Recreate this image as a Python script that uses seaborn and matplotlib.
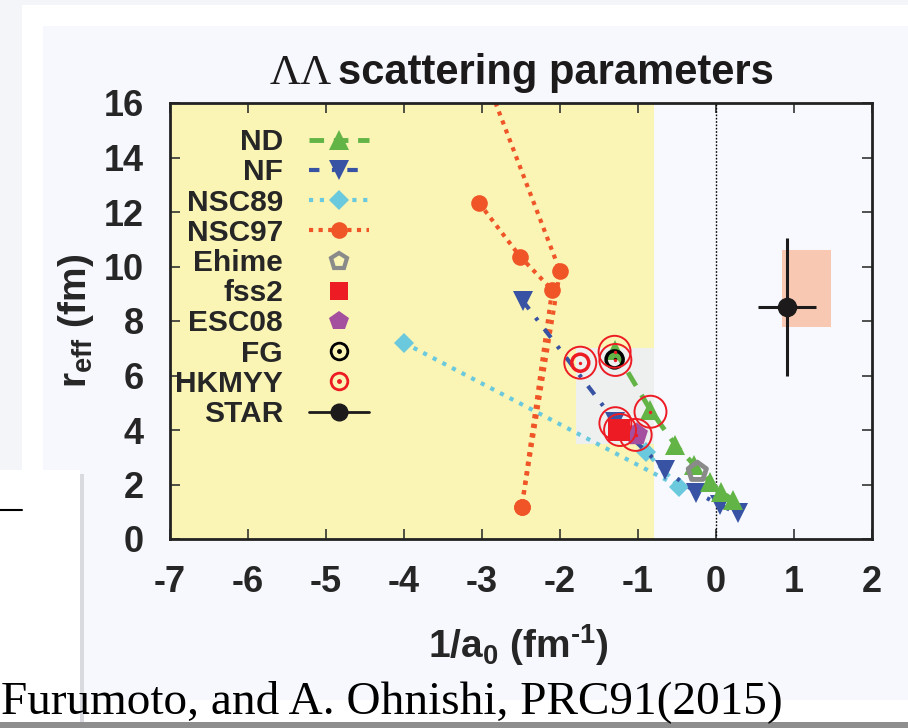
import numpy as np
import pandas as pd
import matplotlib
matplotlib.use("Agg")
import matplotlib.pyplot as plt
from matplotlib.patches import Rectangle
from matplotlib.lines import Line2D
import seaborn as sns

# ---------------- data ----------------
nd_x = [-1.30, -0.84, -0.52, -0.28, -0.08, 0.06, 0.22]
nd_y = [6.94, 4.73, 3.45, 2.72, 2.10, 1.74, 1.43]

nf_x = [-2.48, -1.29, -0.65, -0.25, 0.05, 0.28]
nf_y = [8.75, 4.30, 2.53, 1.70, 1.25, 0.94]

nsc89_x = [-4.00, -0.47, -0.90]
nsc89_y = [7.20, 1.92, 3.19]

nsc97a_x = [-2.96, -2.00, -2.49]
nsc97a_y = [17.0, 9.83, 1.19]
nsc97b_x = [-3.04, -2.51, -2.10, -2.49]
nsc97b_y = [12.34, 10.36, 9.14, 1.19]

ehime_x, ehime_y = [-0.24], [2.47]
fss2_x, fss2_y = [-1.24], [4.00]
esc08_x, esc08_y = [-1.02], [3.85]
fg_x, fg_y = [-1.30], [6.59]
hkmyy_x, hkmyy_y = [-1.74], [6.47]
halo_x = [-1.74, -1.30, -1.29, -0.84, -1.29, -1.23, -1.03]
halo_y = [6.47, 6.87, 6.57, 4.67, 4.25, 4.00, 3.82]

star_x, star_y = [0.91], [8.51]
star_xerr, star_yerr = [0.37], [2.54]
star_box_x = [0.85, 1.48]
star_box_y = [7.79, 10.60]

allowed_x = [-7, -0.80]          # yellow region
grey_box_x = [-1.80, -0.80]
grey_box_y = [3.50, 7.00]

x_ticks = list(range(-7, 3))
y_ticks = list(range(0, 17, 2))
legend_labels = ["ND", "NF", "NSC89", "NSC97", "Ehime", "fss2", "ESC08",
                 "FG", "HKMYY", "STAR"]

# ---------------- style ----------------
sns.set_style("ticks")
plt.rcParams["font.family"] = ["Liberation Sans", "DejaVu Sans"]
plt.rcParams["font.weight"] = "bold"
plt.rcParams["axes.unicode_minus"] = False
plt.rcParams["mathtext.fontset"] = "custom"
plt.rcParams["mathtext.rm"] = "Liberation Sans:bold"
plt.rcParams["mathtext.it"] = "Liberation Sans:bold"
plt.rcParams["mathtext.bf"] = "Liberation Sans:bold"

C_ND = "#63b446"
C_NF = "#3853a4"
C_89 = "#6bc9dd"
C_97 = "#f05528"
C_EH = "#8a8a8a"
C_FS = "#ed1c24"
C_ES = "#a54f9f"
C_ST = "#1c1a1a"

W, H = 908, 728
fig = plt.figure(figsize=(W / 100, H / 100), dpi=100)
fig.patch.set_facecolor("#f4f5f9")


def fig_rect(x0, y0, x1, y1, color, z=0):
    fig.add_artist(Rectangle((x0 / W, 1 - y1 / H), (x1 - x0) / W, (y1 - y0) / H,
                             transform=fig.transFigure, facecolor=color,
                             edgecolor="none", zorder=z))

# slide decoration
fig_rect(22, 5, 908, 722, "white", z=-5)
fig_rect(43, 26, 908, 700, "#f6f8fe", z=-4)
fig_rect(0, 470, 80, 722, "white", z=-3)
fig_rect(80, 474, 84, 722, "#d8dadf", z=-3)
fig_rect(0, 722, 908, 728, "#8e8e8e", z=-2)
fig.add_artist(Line2D([0, 22 / W], [1 - 510 / H, 1 - 510 / H],
                      transform=fig.transFigure, color="black", lw=1.5))

ax = fig.add_axes([170 / W, 1 - 539 / H, 702 / W, 436 / H])
ax.set_facecolor("#f7f9fe")
ax.set_xlim(-7, 2)
ax.set_ylim(0, 16)

ax.axvspan(allowed_x[0], allowed_x[1], color="#fbf5b5", zorder=0, lw=0)
ax.add_patch(Rectangle((grey_box_x[0], grey_box_y[0]),
                       grey_box_x[1] - grey_box_x[0], grey_box_y[1] - grey_box_y[0],
                       facecolor="#eef0f0", edgecolor="none", zorder=0.5))
ax.axvline(0, color="black", lw=1.0, ls=(0, (1.2, 1.2)), zorder=1)
ax.add_patch(Rectangle((star_box_x[0], star_box_y[0]),
                       star_box_x[1] - star_box_x[0], star_box_y[1] - star_box_y[0],
                       facecolor="#f9c8b2", edgecolor="none", zorder=1))

# lines with markers
sns.lineplot(x=nsc89_x, y=nsc89_y, sort=False, estimator=None, ax=ax, color=C_89,
             linestyle=(0, (1, 1.6)), lw=3, marker="D", markersize=10,
             markeredgewidth=0, zorder=3)
sns.lineplot(x=nsc97a_x, y=nsc97a_y, sort=False, estimator=None, ax=ax, color=C_97,
             linestyle=(0, (1, 1.3)), lw=3, marker="o", markersize=12,
             markeredgewidth=0, zorder=3)
sns.lineplot(x=nsc97b_x, y=nsc97b_y, sort=False, estimator=None, ax=ax, color=C_97,
             linestyle=(0, (1, 1.3)), lw=3, marker="o", markersize=12,
             markeredgewidth=0, zorder=3)
sns.lineplot(x=nf_x, y=nf_y, sort=False, estimator=None, ax=ax, color=C_NF,
             linestyle=(0, (2.6, 2.6, 0.8, 2.6)), lw=3, marker="v", markersize=15,
             markeredgewidth=0, zorder=4)
sns.lineplot(x=nd_x, y=nd_y, sort=False, estimator=None, ax=ax, color=C_ND,
             linestyle=(0, (3.2, 2.2)), lw=3.5, marker="^", markersize=15,
             markeredgewidth=0, zorder=4)

# single points
sns.scatterplot(x=ehime_x, y=ehime_y, ax=ax, marker="p", s=190, facecolor="none",
                edgecolor=C_EH, linewidth=3.5, zorder=5)
sns.scatterplot(x=fss2_x, y=fss2_y, ax=ax, marker="s", s=260, color=C_FS,
                linewidth=0, zorder=6)
sns.scatterplot(x=esc08_x, y=esc08_y, ax=ax, marker="p", s=300, color=C_ES,
                linewidth=0, zorder=5)
sns.scatterplot(x=fg_x, y=fg_y, ax=ax, marker="o", s=150, facecolor="none",
                edgecolor="black", linewidth=2.5, zorder=6)
sns.scatterplot(x=fg_x, y=fg_y, ax=ax, marker="o", s=6, color="black",
                linewidth=0, zorder=6)
sns.scatterplot(x=hkmyy_x, y=hkmyy_y, ax=ax, marker="o", s=150, facecolor="none",
                edgecolor=C_FS, linewidth=2.5, zorder=6)
sns.scatterplot(x=halo_x, y=halo_y, ax=ax, marker="o", s=530, facecolor="none",
                edgecolor=C_FS, linewidth=1.4, zorder=7)
sns.scatterplot(x=halo_x, y=halo_y, ax=ax, marker="o", s=6, color=C_FS,
                linewidth=0, zorder=7)

ax.errorbar(star_x, star_y, xerr=star_xerr, yerr=star_yerr, fmt="o", color=C_ST,
            markersize=13, elinewidth=2.2, capsize=0, zorder=8)

# axes cosmetics
ax.set_xticks(x_ticks)
ax.set_yticks(y_ticks)
ax.tick_params(direction="in", length=7, width=1.2, top=True, right=True,
               labelsize=26, pad=19, color="#333333")
for lab in ax.get_xticklabels() + ax.get_yticklabels():
    lab.set_fontweight("bold")
for sp in ax.spines.values():
    sp.set_linewidth(2.0)
    sp.set_color("#222222")
    sp.set_zorder(10)

ax.set_xlabel("1/a$_{0}$ (fm$^{\u2010 1}$)", fontsize=28, fontweight="bold")
ax.set_ylabel(r"r$_{\rm eff}$ (fm)", fontsize=28, fontweight="bold")
ax.xaxis.set_label_coords(0.496, -0.19)
ax.yaxis.set_label_coords(-0.105, 0.5)

# title
fig.text(332 / W, 1 - 84 / H, "ΛΛ", fontsize=31, family="Liberation Serif",
         fontweight="normal", ha="right", va="baseline", color="#1c1a1a")
fig.text(338 / W, 1 - 84 / H, "scattering parameters", fontsize=30,
         fontweight="bold", ha="left", va="baseline", color="#1c1a1a")

# citation
fig.text(1 / W, 1 - 713 / H, "Furumoto, and A. Ohnishi, PRC91(2015)", fontsize=34,
         family="Liberation Serif", fontweight="normal", ha="left",
         va="baseline", color="black")

# legend
handles = [
    Line2D([], [], color=C_ND, ls=(0, (3, 2)), lw=3.5, marker="^", markersize=14, markeredgewidth=0),
    Line2D([], [], color=C_NF, ls=(0, (2.5, 3, 0.7, 3)), lw=3, marker="v", markersize=14, markeredgewidth=0),
    Line2D([], [], color=C_89, ls=(0, (1, 1.6)), lw=3, marker="D", markersize=10, markeredgewidth=0),
    Line2D([], [], color=C_97, ls=(0, (1, 1.3)), lw=3, marker="o", markersize=12, markeredgewidth=0),
    Line2D([], [], ls="none", marker="p", markersize=12, markerfacecolor="none",
           markeredgecolor=C_EH, markeredgewidth=3),
    Line2D([], [], ls="none", marker="s", markersize=13, color=C_FS, markeredgewidth=0),
    Line2D([], [], ls="none", marker="p", markersize=15, color=C_ES, markeredgewidth=0),
    (Line2D([], [], ls="none", marker="o", markersize=12, markerfacecolor="none",
            markeredgecolor="black", markeredgewidth=2),
     Line2D([], [], ls="none", marker="o", markersize=2.5, color="black")),
    (Line2D([], [], ls="none", marker="o", markersize=12, markerfacecolor="none",
            markeredgecolor=C_FS, markeredgewidth=2),
     Line2D([], [], ls="none", marker="o", markersize=2.5, color=C_FS)),
    Line2D([], [], color=C_ST, lw=2, marker="o", markersize=12),
]
leg = ax.legend(handles, legend_labels, loc="upper right", bbox_to_anchor=(0.30, 0.97),
                frameon=False, markerfirst=False, fontsize=21.5, handlelength=2.0,
                handletextpad=0.87, labelspacing=0.075, borderaxespad=0)
for t in leg.get_texts():
    t.set_fontweight("bold")
    t.set_ha("right")
leg.set_zorder(20)

fig.savefig("out.png", dpi=100, facecolor=fig.get_facecolor())
